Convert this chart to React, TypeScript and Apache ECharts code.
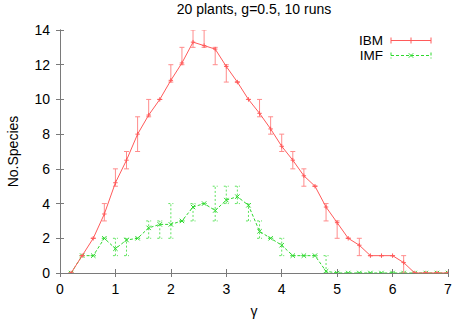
import React, { useEffect, useRef } from "react";
import * as echarts from "echarts";

const gamma = [0.2, 0.4, 0.6, 0.8, 1.0, 1.2, 1.4, 1.6, 1.8, 2.0, 2.2, 2.4, 2.6, 2.8, 3.0, 3.2, 3.4, 3.6, 3.8, 4.0, 4.2, 4.4, 4.6, 4.8, 5.0, 5.2, 5.4, 5.6, 5.8, 6.0, 6.2, 6.4, 6.6, 6.8, 7.0];

const ibmMean = [0, 1, 2, 3.4, 5.2, 6.5, 8.0, 9.1, 10.0, 11.1, 12.1, 13.3, 13.1, 12.9, 11.9, 11.0, 10.0, 9.2, 8.3, 7.3, 6.5, 5.6, 5.0, 3.8, 2.9, 2.0, 1.6, 1.0, 1.0, 1.0, 0.6, 0, 0, 0, 0];
const ibmLow = [0, 1, 2, 3, 5, 6, 7, 9, 10, 11, 12, 13, 13, 12, 11, 11, 10, 9, 8, 7, 6, 5, 5, 3, 2, 2, 1, 1, 1, 1, 0, 0, 0, 0, 0];
const ibmHigh = [0, 1, 2, 4, 6, 7, 9, 10, 10, 12, 13, 14, 14, 13, 12, 11, 10, 10, 9, 8, 7, 6, 5, 4, 3, 2, 2, 1, 1, 1, 1, 0, 0, 0, 0];

const imfMean = [0, 1, 1, 2, 1.4, 1.9, 2.0, 2.6, 2.8, 2.8, 3.0, 3.8, 4.0, 3.6, 4.2, 4.4, 3.9, 2.4, 2.0, 1.6, 1, 1, 1, 0.1, 0, 0, 0, 0, 0, 0, 0, 0, 0, 0, 0];
const imfLow = [0, 1, 1, 2, 1, 1, 2, 2, 2, 2, 3, 3, 4, 3, 4, 4, 3, 2, 2, 1, 1, 1, 1, 0, 0, 0, 0, 0, 0, 0, 0, 0, 0, 0, 0];
const imfHigh = [0, 1, 1, 2, 2, 2, 2, 3, 3, 4, 3, 4, 4, 5, 5, 5, 4, 3, 2, 2, 1, 1, 1, 1, 0, 0, 0, 0, 0, 0, 0, 0, 0, 0, 0];

const seriesNames = ["IBM", "IMF"];
const xTicks = { min: 0, max: 7, interval: 1 };
const yTicks = { min: 0, max: 14, interval: 2 };

const FONT = "'Liberation Sans', Arial, Helvetica, sans-serif";
const RED = "#ff5a5a";
const RED_ERR = "#ff8c8c";
const GREEN = "#2ed82e";
const GREEN_ERR = "#5fe35f";
const FRAME = "#7a7a7a";

function makeRenderer(lineColor: string, errColor: string, marker: "plus" | "cross", dashed: boolean) {
  return (params: any, api: any) => {
    const x = api.value(0);
    const m = api.value(1);
    const lo = api.value(2);
    const hi = api.value(3);
    const pm = api.coord([x, m]);
    const pl = api.coord([x, lo]);
    const ph = api.coord([x, hi]);
    const cap = 2.5;
    const ms = 2.2;
    const errStyle: any = { stroke: errColor, lineWidth: 1, fill: null };
    if (dashed) errStyle.lineDash = [2, 2];
    const mStyle: any = { stroke: lineColor, lineWidth: 1, fill: null };
    const children: any[] = [];
    if (hi !== lo) {
      children.push({ type: "line", shape: { x1: pl[0], y1: pl[1], x2: ph[0], y2: ph[1] }, style: errStyle });
    }
    children.push({ type: "line", shape: { x1: pl[0] - cap, y1: pl[1], x2: pl[0] + cap, y2: pl[1] }, style: errStyle });
    children.push({ type: "line", shape: { x1: ph[0] - cap, y1: ph[1], x2: ph[0] + cap, y2: ph[1] }, style: errStyle });
    if (marker === "plus") {
      children.push({ type: "line", shape: { x1: pm[0] - ms, y1: pm[1], x2: pm[0] + ms, y2: pm[1] }, style: mStyle });
      children.push({ type: "line", shape: { x1: pm[0], y1: pm[1] - ms, x2: pm[0], y2: pm[1] + ms }, style: mStyle });
    } else {
      children.push({ type: "line", shape: { x1: pm[0] - ms, y1: pm[1] - ms, x2: pm[0] + ms, y2: pm[1] + ms }, style: mStyle });
      children.push({ type: "line", shape: { x1: pm[0] - ms, y1: pm[1] + ms, x2: pm[0] + ms, y2: pm[1] - ms }, style: mStyle });
    }
    return { type: "group", children };
  };
}

function legendItem(y: number, label: string, lineColor: string, dashed: boolean, marker: "plus" | "cross") {
  const x1 = 391;
  const x2 = 431;
  const xm = 411;
  const ls: any = { stroke: lineColor, lineWidth: 1 };
  if (dashed) ls.lineDash = [3, 2];
  const ms = 2.2;
  const els: any[] = [
    { type: "text", x: 383, y, style: { text: label, font: `13.5px ${FONT}`, fill: "#000", align: "right", verticalAlign: "middle", textAlign: "right", textVerticalAlign: "middle" } },
    { type: "line", shape: { x1, y1: y, x2, y2: y }, style: ls },
    { type: "line", shape: { x1, y1: y - 3, x2: x1, y2: y + 3 }, style: ls },
    { type: "line", shape: { x1: x2, y1: y - 3, x2, y2: y + 3 }, style: ls },
  ];
  if (marker === "plus") {
    els.push({ type: "line", shape: { x1: xm, y1: y - 3, x2: xm, y2: y + 3 }, style: { stroke: lineColor, lineWidth: 1 } });
  } else {
    els.push({ type: "line", shape: { x1: xm - ms, y1: y - ms, x2: xm + ms, y2: y + ms }, style: { stroke: lineColor, lineWidth: 1 } });
    els.push({ type: "line", shape: { x1: xm - ms, y1: y + ms, x2: xm + ms, y2: y - ms }, style: { stroke: lineColor, lineWidth: 1 } });
  }
  return els;
}

export default function App() {
  const ref = useRef<HTMLDivElement>(null);
  useEffect(() => {
    if (!ref.current) return;
    const chart = echarts.init(ref.current, undefined, { renderer: "svg" });
    const axisLine = { show: true, lineStyle: { color: FRAME, width: 1 } };
    const axisTick = { show: true, inside: true, length: 4, lineStyle: { color: FRAME, width: 1 } };
    const ibmData = gamma.map((g, i) => [g, ibmMean[i], ibmLow[i], ibmHigh[i]]);
    const imfData = gamma.map((g, i) => [g, imfMean[i], imfLow[i], imfHigh[i]]);
    chart.setOption({
      animation: false,
      backgroundColor: "#fff",
      textStyle: { fontFamily: FONT },
      grid: { left: 60, right: 6, top: 30, bottom: 46, containLabel: false, outerBoundsMode: "none" },
      xAxis: [
        {
          type: "value", position: "bottom", ...xTicks,
          axisLine, axisTick,
          splitLine: { show: false },
          axisLabel: { fontSize: 14, color: "#000", margin: 9, fontFamily: FONT },
          name: "γ", nameLocation: "middle", nameGap: 31,
          nameTextStyle: { fontSize: 14, color: "#000", fontFamily: FONT },
        },
        {
          type: "value", position: "top", ...xTicks,
          axisLine, axisTick,
          splitLine: { show: false },
          axisLabel: { show: false },
        },
      ],
      yAxis: [
        {
          type: "value", position: "left", ...yTicks,
          axisLine, axisTick,
          splitLine: { show: false },
          axisLabel: { fontSize: 14, color: "#000", margin: 10, fontFamily: FONT },
          name: "No.Species", nameLocation: "middle", nameGap: 40, nameRotate: 90,
          nameTextStyle: { fontSize: 14, color: "#000", fontFamily: FONT },
        },
        {
          type: "value", position: "right", ...yTicks,
          axisLine, axisTick,
          splitLine: { show: false },
          axisLabel: { show: false },
        },
      ],
      series: [
        {
          name: seriesNames[1], type: "line", data: gamma.map((g, i) => [g, imfMean[i]]),
          symbol: "none", lineStyle: { color: GREEN, width: 1, type: [3, 2] }, z: 2,
        },
        {
          name: seriesNames[1] + " err", type: "custom", data: imfData, encode: { x: 0, y: 1 },
          renderItem: makeRenderer(GREEN, GREEN_ERR, "cross", true), clip: true, z: 2,
        },
        {
          name: seriesNames[0], type: "line", data: gamma.map((g, i) => [g, ibmMean[i]]),
          symbol: "none", lineStyle: { color: RED, width: 1 }, z: 3,
        },
        {
          name: seriesNames[0] + " err", type: "custom", data: ibmData, encode: { x: 0, y: 1 },
          renderItem: makeRenderer(RED, RED_ERR, "plus", false), clip: true, z: 3,
        },
      ],
      graphic: [
        {
          type: "text", x: 254, y: 9,
          style: { text: "20 plants, g=0.5, 10 runs", font: `14px ${FONT}`, fill: "#000", align: "center", verticalAlign: "middle", textAlign: "center", textVerticalAlign: "middle" },
        },
        ...legendItem(40.5, seriesNames[0], RED, false, "plus"),
        ...legendItem(55.5, seriesNames[1], GREEN, true, "cross"),
      ],
    });
    return () => chart.dispose();
  }, []);
  return <div ref={ref} style={{ position: "fixed", left: 0, top: 0, width: 454, height: 319 }} />;
}
